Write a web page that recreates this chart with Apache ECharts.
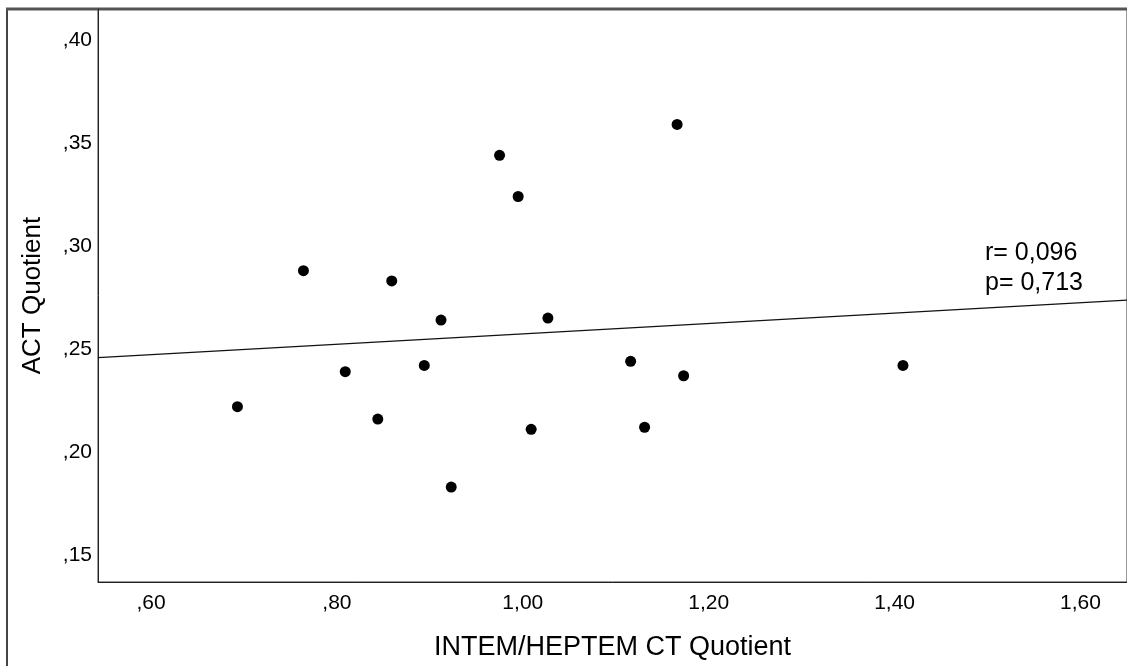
<!DOCTYPE html>
<html>
<head>
<meta charset="utf-8">
<script src="https://cdn.jsdelivr.net/npm/echarts@6/dist/echarts.min.js"></script>
<style>
  html, body { margin: 0; padding: 0; background: #fff; }
  #chart { width: 1127px; height: 666px; }
</style>
</head>
<body>
<div id="chart"></div>
<script>
// Quotients per case
const ctQuotient  = [0.693, 0.764, 0.809, 0.844, 0.859, 0.894, 0.912, 0.923, 0.975, 0.995, 1.009, 1.027, 1.116, 1.131, 1.166, 1.173, 1.409];
const actQuotient = [0.222, 0.288, 0.239, 0.216, 0.283, 0.242, 0.264, 0.183, 0.344, 0.324, 0.211, 0.265, 0.244, 0.212, 0.359, 0.237, 0.242];

// Linear fit: ACT = intercept + slope * CT
const fitIntercept = 0.2321;
const fitSlope = 0.0252;

const xTicks = [0.60, 0.80, 1.00, 1.20, 1.40, 1.60];
const yTicks = [0.15, 0.20, 0.25, 0.30, 0.35, 0.40];
const statLines = ['r= 0,096', 'p= 0,713'];

const xMin = 0.543, xMax = 1.65;
const yMin = 0.1369, yMax = 0.415;

// Decimal comma, leading zero dropped: 0.40 -> ",40", 1.20 -> "1,20"
function fmt(v) {
  let s = v.toFixed(2).replace('.', ',');
  if (s.startsWith('0,')) s = s.slice(1);
  return s;
}

const points = ctQuotient.map((x, i) => [x, actQuotient[i]]);
const fitLine = [xMin, xMax].map(x => [x, fitIntercept + fitSlope * x]);

const FONT = '"Liberation Sans", Arial, sans-serif';

const chart = echarts.init(document.getElementById('chart'), null, { renderer: 'canvas' });
chart.setOption({
  animation: false,
  backgroundColor: '#fff',
  grid: {
    left: 98, top: 9, right: -10, bottom: 83,
    show: true, borderColor: '#333', borderWidth: 1
  },
  xAxis: {
    type: 'value', min: xMin, max: xMax,
    name: 'INTEM/HEPTEM CT Quotient',
    nameLocation: 'middle', nameGap: 52,
    nameTextStyle: { fontFamily: FONT, fontSize: 27, color: '#000' },
    axisLine: { show: true, onZero: false, lineStyle: { color: '#222', width: 1 } },
    axisTick: { show: false },
    splitLine: { show: false },
    axisLabel: {
      customValues: xTicks, formatter: fmt, margin: 11,
      fontFamily: FONT, fontSize: 21, color: '#000'
    }
  },
  yAxis: {
    type: 'value', min: yMin, max: yMax,
    name: 'ACT Quotient',
    nameLocation: 'middle', nameGap: 52, nameRotate: 90,
    nameTextStyle: { fontFamily: FONT, fontSize: 26, color: '#000' },
    axisLine: { show: true, onZero: false, lineStyle: { color: '#222', width: 1 } },
    axisTick: { show: false },
    splitLine: { show: false },
    axisLabel: {
      customValues: yTicks, formatter: fmt, margin: 6,
      fontFamily: FONT, fontSize: 21, color: '#000'
    }
  },
  series: [
    {
      type: 'line', data: fitLine, showSymbol: false, symbol: 'none',
      lineStyle: { color: '#111', width: 1.2 }, silent: true, z: 2
    },
    {
      type: 'scatter', data: points, symbol: 'circle', symbolSize: 11,
      itemStyle: { color: '#000', opacity: 1 }, z: 3
    }
  ],
  graphic: [
    // outer frame
    { type: 'line', shape: { x1: 7, y1: 9, x2: 7, y2: 666 }, style: { stroke: '#444', lineWidth: 2 } },
    { type: 'line', shape: { x1: 6, y1: 9, x2: 1127, y2: 9 }, style: { stroke: '#555', lineWidth: 3 } },
    {
      type: 'text', left: 985, top: 238,
      style: {
        text: statLines.join('\n'), fontFamily: FONT, fontSize: 25,
        lineHeight: 30, fill: '#000'
      }
    }
  ]
});
</script>
</body>
</html>
